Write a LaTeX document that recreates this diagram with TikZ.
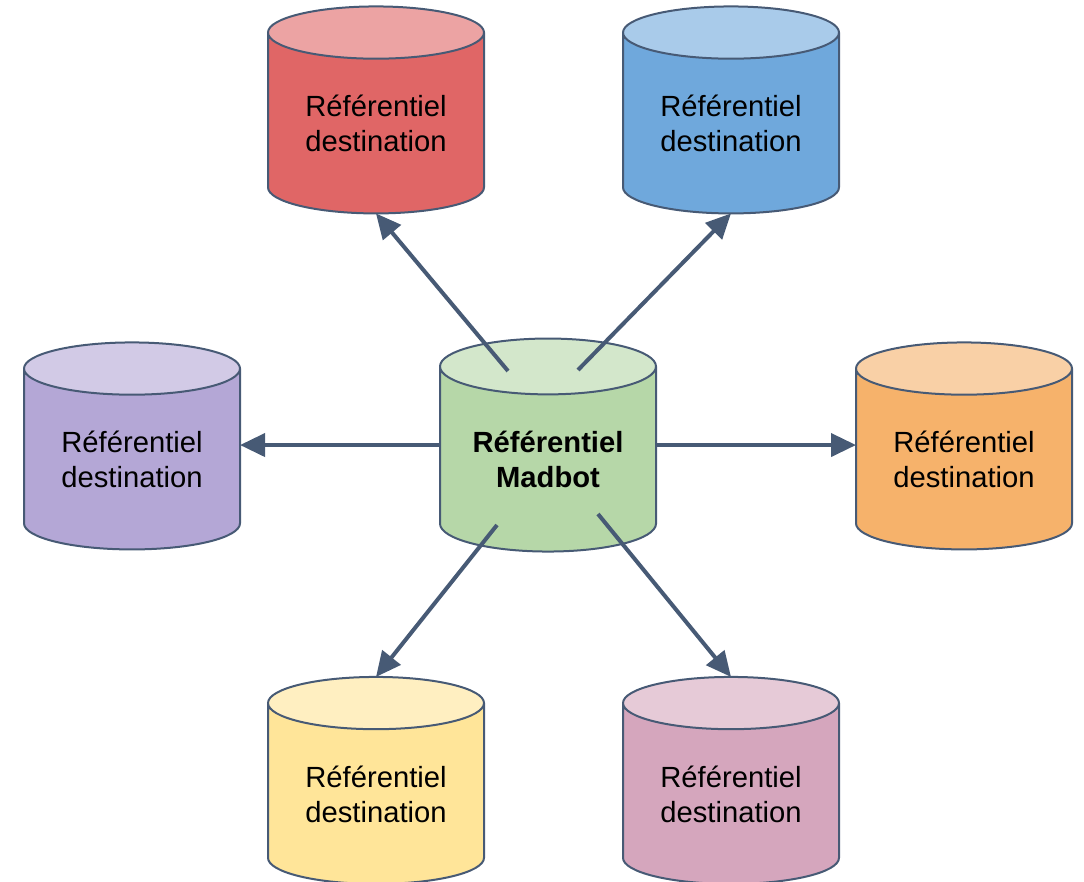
\documentclass[tikz,border=0pt]{standalone}
\usepackage{fontspec}
\setmainfont{Liberation Sans}
\usetikzlibrary{shapes.geometric,arrows.meta}
\definecolor{edgeblue}{HTML}{475A75}
\definecolor{redbody}{HTML}{E06666}
\definecolor{redtop}{HTML}{ECA3A3}
\definecolor{bluebody}{HTML}{6FA8DC}
\definecolor{bluetop}{HTML}{A9CBEA}
\definecolor{purplebody}{HTML}{B4A7D6}
\definecolor{purpletop}{HTML}{D2CAE6}
\definecolor{greenbody}{HTML}{B6D7A8}
\definecolor{greentop}{HTML}{D3E7CB}
\definecolor{orangebody}{HTML}{F6B26B}
\definecolor{orangetop}{HTML}{F9D0A6}
\definecolor{yellowbody}{HTML}{FFE599}
\definecolor{yellowtop}{HTML}{FFEFC1}
\definecolor{pinkbody}{HTML}{D5A6BD}
\definecolor{pinktop}{HTML}{E6CAD7}
\tikzset{repo/.style={cylinder,shape border rotate=90,draw=edgeblue,line width=2pt,
        cylinder uses custom fill,aspect=0.37,outer sep=0pt,
        minimum width=216pt,minimum height=207pt,inner sep=0pt,
        align=center,font=\fontsize{29.2pt}{35pt}\selectfont,
        cylinder body fill=#1body,cylinder end fill=#1top},
    link/.style={draw=edgeblue,line width=4pt,-{Triangle[length=25pt,width=23pt]}}}
\begin{document}
\begin{tikzpicture}[x=1pt,y=-1pt]
\useasboundingbox (0,0) rectangle (1084,882);
\node[repo=red] (red) at (376,123.5) {Référentiel\\destination};
\node[repo=blue] (blue) at (731,123.5) {Référentiel\\destination};
\node[repo=purple] (purple) at (132,459.5) {Référentiel\\destination};
\node[repo=green,minimum height=213pt] (main) at (548,459.5) {\textbf{Référentiel}\\\textbf{Madbot}};
\node[repo=orange] (orange) at (964,459.5) {Référentiel\\destination};
\node[repo=yellow] (yellow) at (376,794) {Référentiel\\destination};
\node[repo=pink] (pink) at (731,794) {Référentiel\\destination};
\coordinate (mainNW) at (508,371);
\coordinate (mainNE) at (578,370);
\coordinate (mainSW) at (497,525);
\coordinate (mainSE) at (598,514);
\draw[link] (mainNW) -- (red.bottom);
\draw[link] (mainNE) -- (blue.bottom);
\draw[link] (main.shape center -| main.west) -- (main.shape center -| purple.east);
\draw[link] (main.shape center -| main.east) -- (main.shape center -| orange.west);
\draw[link] (mainSW) -- (yellow.top);
\draw[link] (mainSE) -- (pink.top);
\end{tikzpicture}
\end{document}
